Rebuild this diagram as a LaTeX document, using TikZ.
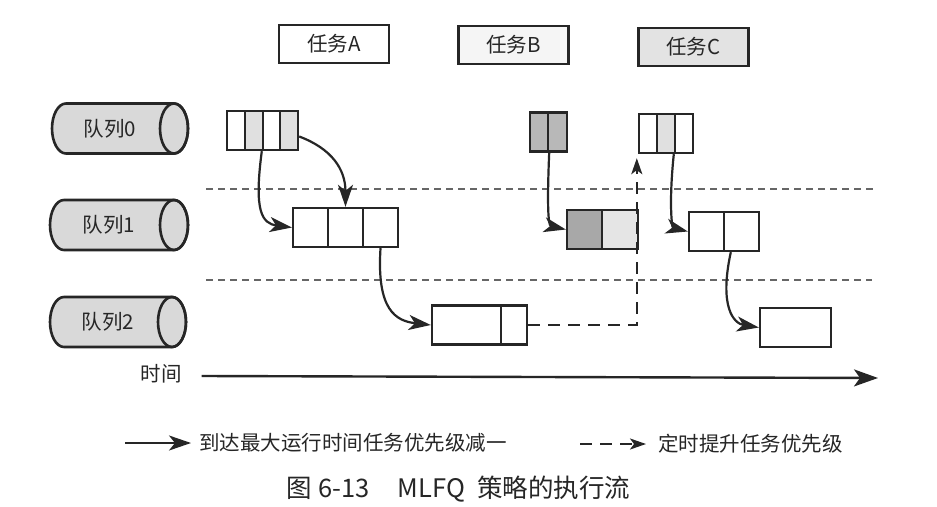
\documentclass[tikz,border=0pt]{standalone}
\usepackage{fontspec}
\setmainfont{Noto Sans CJK SC}
\usetikzlibrary{arrows.meta,calc}
\definecolor{lt}{gray}{0.88}
\definecolor{md}{gray}{0.72}
\definecolor{dk}{gray}{0.66}
\definecolor{cyl}{gray}{0.85}
\definecolor{ink}{gray}{0.15}
\newcommand\mlfqcyl[5]{%
  \path[fill=cyl,draw=ink,line width=2.6pt] (#3-14,#4-25) -- (#2+14,#4-25)
    arc[start angle=270,end angle=90,x radius=14,y radius=25] -- (#3-14,#4+25)
    arc[start angle=90,end angle=-90,x radius=14,y radius=25] -- cycle;
  \draw[ink,line width=2.6pt] (#3-14,#4) ellipse[x radius=14,y radius=25];
  \node[lbl] (#1) at ({(#2+#3)/2-10},#4) {#5};
}
\begin{document}
\begin{tikzpicture}[x=1pt,y=-1pt,
  lbl/.style={inner sep=0pt,text=ink,font=\fontsize{20.5}{24}\selectfont},
  cell/.style={draw=ink,line width=2.4pt,minimum height=39pt,inner sep=0pt,fill=white},
  taskbox/.style={draw=ink,line width=2.4pt,minimum width=110pt,minimum height=38pt,inner sep=0pt,text=ink,font=\fontsize{20.5}{24}\selectfont},
  sep/.style={draw=black!60,line width=1.3pt,dash pattern=on 7pt off 5pt},
  tipA/.tip={Stealth[length=22pt,width=15pt,inset=6pt]},
  tipB/.tip={Stealth[length=16pt,width=11pt,inset=4pt]},
  tipC/.tip={Stealth[length=24pt,width=17pt,inset=6pt]},
  flow/.style={draw=ink,line width=2.2pt,-tipA},
  dashflow/.style={draw=ink,line width=2pt,dash pattern=on 12pt off 8pt,-tipB},
  axis/.style={draw=ink,line width=2.4pt,-tipC}]
\useasboundingbox[fill=white] (0,0) rectangle (937,506);

% task title boxes
\node[taskbox] (tA) at (334,44) {任务A};
\node[taskbox,fill=gray!8] (tB) at (513.5,45) {任务B};
\node[taskbox,fill=gray!22] (tC) at (693.5,47) {任务C};

% queues
\mlfqcyl{q0}{52}{188}{128.5}{队列0}
\mlfqcyl{q1}{50}{188}{225}{队列1}
\mlfqcyl{q2}{50}{186}{322}{队列2}

% separators
\coordinate (s1a) at (206,189); \coordinate (s1b) at (876,189);
\coordinate (s2a) at (206,280); \coordinate (s2b) at (872,280);
\draw[sep] (s1a) -- (s1b);
\draw[sep] (s2a) -- (s2b);

% queue 0
\node[cell,minimum width=18pt] (a0a) at (236,130.5) {};
\node[cell,minimum width=18pt,fill=lt] (a0b) at (254,130.5) {};
\node[cell,minimum width=17pt] (a0c) at (271.5,130.5) {};
\node[cell,minimum width=18pt,fill=lt] (a0d) at (289,130.5) {};
\node[cell,minimum width=18pt,fill=md] (b0a) at (539,132) {};
\node[cell,minimum width=19pt,fill=md] (b0b) at (557.5,132) {};
\node[cell,minimum width=18pt] (c0a) at (648,133.5) {};
\node[cell,minimum width=18pt,fill=lt] (c0b) at (666,133.5) {};
\node[cell,minimum width=18pt] (c0c) at (684,133.5) {};

% queue 1
\node[cell,minimum width=35pt] (a1a) at (310.5,227.5) {};
\node[cell,minimum width=35pt] (a1b) at (345.5,227.5) {};
\node[cell,minimum width=35pt] (a1c) at (380.5,227.5) {};
\node[cell,minimum width=35pt,fill=dk] (b1a) at (584.5,229.5) {};
\node[cell,minimum width=36pt,fill=gray!20] (b1b) at (620,229.5) {};
\node[cell,minimum width=35pt] (c1a) at (706.5,231.5) {};
\node[cell,minimum width=35pt] (c1b) at (741.5,231.5) {};

% queue 2
\node[cell,minimum width=69pt] (a2a) at (466.5,325) {};
\node[cell,minimum width=26pt] (a2b) at (514,325) {};
\node[cell,minimum width=71pt] (c2a) at (795.5,327.5) {};

% demotion arrows
\draw[flow] (a0c.south west) .. controls +(-8,60) and +(-30,-4) .. (a1a.west);
\draw[flow] ($(a0d.east)+(0,6)$) .. controls +(32,12) and +(0,-38) .. (a1b.north);
\draw[flow] (a1c.south) .. controls +(-4,62) and +(-35,-4) .. (a2a.west);
\draw[flow] (b0a.south east) .. controls +(-2,48) and +(-18,-4) .. (b1a.west);
\draw[flow] (c0c.south west) .. controls +(-5,48) and +(-16,-4) .. (c1a.west);
\draw[flow] ($(c1b.south west)+(8,0)$) .. controls +(-12,55) and +(-25,-4) .. (c2a.west);

% boost
\draw[dashflow] (a2b.east) -| ($(c0a.south west)+(-1,4)$);

% time axis
\node[lbl] (time) at (161,374) {时间};
\coordinate (tend) at (878,378);
\draw[axis] ($(time.east)+(20,2)$) -- (tend);

% legend
\coordinate (l1s) at (125,443);
\node[lbl,anchor=west] (l1) at (199,443) {到达最大运行时间任务优先级减一};
\draw[flow] (l1s) -- ($(l1.west)+(-8,0)$);
\coordinate (l2s) at (580,444);
\node[lbl,anchor=west] (l2) at (658,444) {定时提升任务优先级};
\draw[dashflow] (l2s) -- ($(l2.west)+(-12,0)$);

% caption
\node[inner sep=0pt,anchor=west,text=ink,font=\fontsize{25.5}{30}\selectfont] (cap) at (286,489)
  {图\hspace{7pt}6-13\hspace{28pt}MLFQ\hspace{12pt}策略的执行流};
\end{tikzpicture}
\end{document}
